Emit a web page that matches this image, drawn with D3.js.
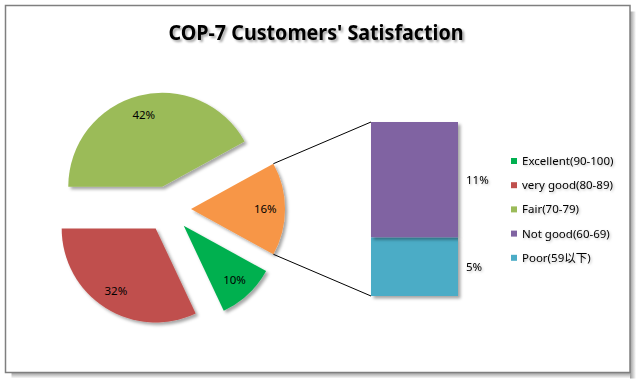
<!DOCTYPE html>
<html>
<head>
<meta charset="utf-8">
<script src="https://cdn.jsdelivr.net/npm/d3@7/dist/d3.min.js"></script>
<style>
  html, body { margin: 0; padding: 0; background: #fff; }
  svg { display: block; }
  text { font-family: "Noto Sans", "Noto Sans CJK SC", sans-serif; }
</style>
</head>
<body>
<svg id="chart" width="641" height="383"></svg>
<script>
// ---- data ----
const title = "COP-7 Customers' Satisfaction";
const categories = ["Excellent(90-100)", "very good(80-89)", "Fair(70-79)", "Not good(60-69)", "Poor(59以下)"];
const values = [10, 32, 42, 10.6, 5.4];
const colors = ["#00B050", "#C0504D", "#9BBB59", "#8064A2", "#4BACC6"];
const otherColor = "#F79646";
// last two categories are split off into the bar
const pieCategories = [0, 1, 2];
const barCategories = [4, 3]; // bottom to top

const svg = d3.select("#chart");
const defs = svg.append("defs");

function shadow(id, dx, dy, sd, op) {
  const f = defs.append("filter").attr("id", id)
    .attr("x", "-20%").attr("y", "-20%").attr("width", "150%").attr("height", "150%");
  f.append("feDropShadow").attr("dx", dx).attr("dy", dy)
    .attr("stdDeviation", sd).attr("flood-color", "#000").attr("flood-opacity", op);
}
shadow("sh", 2.5, 2.5, 1.6, 0.35);
shadow("tsh", 2, 2, 1.2, 0.35);
shadow("lsh", 1.2, 1.2, 0.8, 0.25);

// ---- frame ----
const fr = {x: 5.5, y: 5.5, w: 624.5, h: 367};
const fg = defs.append("linearGradient").attr("id", "gr").attr("x1", 0).attr("x2", 1);
fg.append("stop").attr("offset", 0).attr("stop-color", "#9a9a9a");
fg.append("stop").attr("offset", 1).attr("stop-color", "#fff");
const gb = defs.append("linearGradient").attr("id", "gb").attr("x1", 0).attr("x2", 0).attr("y1", 0).attr("y2", 1);
gb.append("stop").attr("offset", 0).attr("stop-color", "#9a9a9a");
gb.append("stop").attr("offset", 1).attr("stop-color", "#fff");
svg.append("rect").attr("x", fr.x + fr.w).attr("y", fr.y + 6).attr("width", 6).attr("height", fr.h - 6 + 6).attr("fill", "url(#gr)");
svg.append("rect").attr("x", fr.x + 6).attr("y", fr.y + fr.h).attr("width", fr.w - 6).attr("height", 6).attr("fill", "url(#gb)");
svg.append("rect").attr("x", fr.x).attr("y", fr.y).attr("width", fr.w).attr("height", fr.h)
  .attr("fill", "#fff").attr("stroke", "#7f7f7f").attr("stroke-width", 1.5);

// ---- title ----
svg.append("text").attr("x", 316).attr("y", 40)
  .attr("text-anchor", "middle").attr("font-size", 21).attr("font-weight", "bold")
  .attr("textLength", 295).attr("lengthAdjust", "spacingAndGlyphs")
  .attr("fill", "#000").attr("filter", "url(#tsh)").text(title);

// ---- pie ----
const total = d3.sum(values);
const otherValue = d3.sum(barCategories, i => values[i]);
const pieData = [{label: "other", value: otherValue, color: otherColor}]
  .concat(pieCategories.map(i => ({label: categories[i], value: values[i], color: colors[i]})));

const cx = 168, cy = 209, r = 94, explode = 23;
const start = Math.PI / 2 - (otherValue / total) * Math.PI;
const pie = d3.pie().sort(null).value(d => d.value).startAngle(start).endAngle(start + 2 * Math.PI);
const arcs = pie(pieData);
const arc = d3.arc().innerRadius(0).outerRadius(r);
const fmt = v => Math.round(v / total * 100) + "%";

const pg = svg.append("g").attr("transform", `translate(${cx},${cy})`);
arcs.forEach(a => {
  const mid = (a.startAngle + a.endAngle) / 2;
  a.ox = explode * Math.sin(mid);
  a.oy = -explode * Math.cos(mid);
  a.mid = mid;
});
pg.selectAll("path.slice").data(arcs).join("path")
  .attr("class", "slice")
  .attr("transform", d => `translate(${d.ox},${d.oy})`)
  .attr("d", arc).attr("fill", d => d.data.color)
  .attr("filter", "url(#sh)");

const lr = r * 0.79;
pg.selectAll("text.pl").data(arcs).join("text")
  .attr("class", "pl")
  .attr("x", d => d.ox + lr * Math.sin(d.mid))
  .attr("y", d => d.oy - lr * Math.cos(d.mid))
  .attr("dy", "0.35em").attr("text-anchor", "middle")
  .attr("font-size", 11.5).attr("fill", "#000")
  .text(d => fmt(d.data.value));

// ---- bar ----
const barX = 371, barW = 87;
const y = d3.scaleLinear().domain([0, otherValue]).range([296, 122]);
let acc = 0;
const barData = barCategories.map(i => {
  const d = {i, y0: acc, y1: acc + values[i]};
  acc += values[i];
  return d;
});
const bg = svg.append("g");
bg.selectAll("rect").data(barData).join("rect")
  .attr("x", barX).attr("width", barW)
  .attr("y", d => y(d.y1)).attr("height", d => y(d.y0) - y(d.y1))
  .attr("fill", d => colors[d.i]).attr("filter", "url(#sh)");
bg.selectAll("text").data(barData).join("text")
  .attr("x", barX + barW + 8)
  .attr("y", d => (y(d.y0) + y(d.y1)) / 2)
  .attr("dy", "0.35em").attr("font-size", 11.5).attr("fill", "#000")
  .attr("filter", "url(#lsh)")
  .text(d => fmt(values[d.i]));

// ---- connector lines ----
const o = arcs[0];
const p1 = [cx + o.ox + r * Math.sin(o.startAngle), cy + o.oy - r * Math.cos(o.startAngle)];
const p2 = [cx + o.ox + r * Math.sin(o.endAngle), cy + o.oy - r * Math.cos(o.endAngle)];
svg.append("line").attr("x1", p1[0]).attr("y1", p1[1]).attr("x2", barX).attr("y2", y(otherValue))
  .attr("stroke", "#000").attr("stroke-width", 1);
svg.append("line").attr("x1", p2[0]).attr("y1", p2[1]).attr("x2", barX).attr("y2", y(0))
  .attr("stroke", "#000").attr("stroke-width", 1);

// ---- legend ----
const lg = svg.append("g");
const items = lg.selectAll("g").data(categories).join("g")
  .attr("transform", (d, i) => `translate(511,${161 + i * 24.2})`);
items.append("rect").attr("x", 0).attr("y", -3).attr("width", 6).attr("height", 6)
  .attr("fill", (d, i) => colors[i]);
items.append("text").attr("x", 11).attr("y", 0).attr("dy", "0.35em")
  .attr("font-size", 11.5).attr("fill", "#000").attr("filter", "url(#lsh)")
  .text(d => d);
</script>
</body>
</html>
